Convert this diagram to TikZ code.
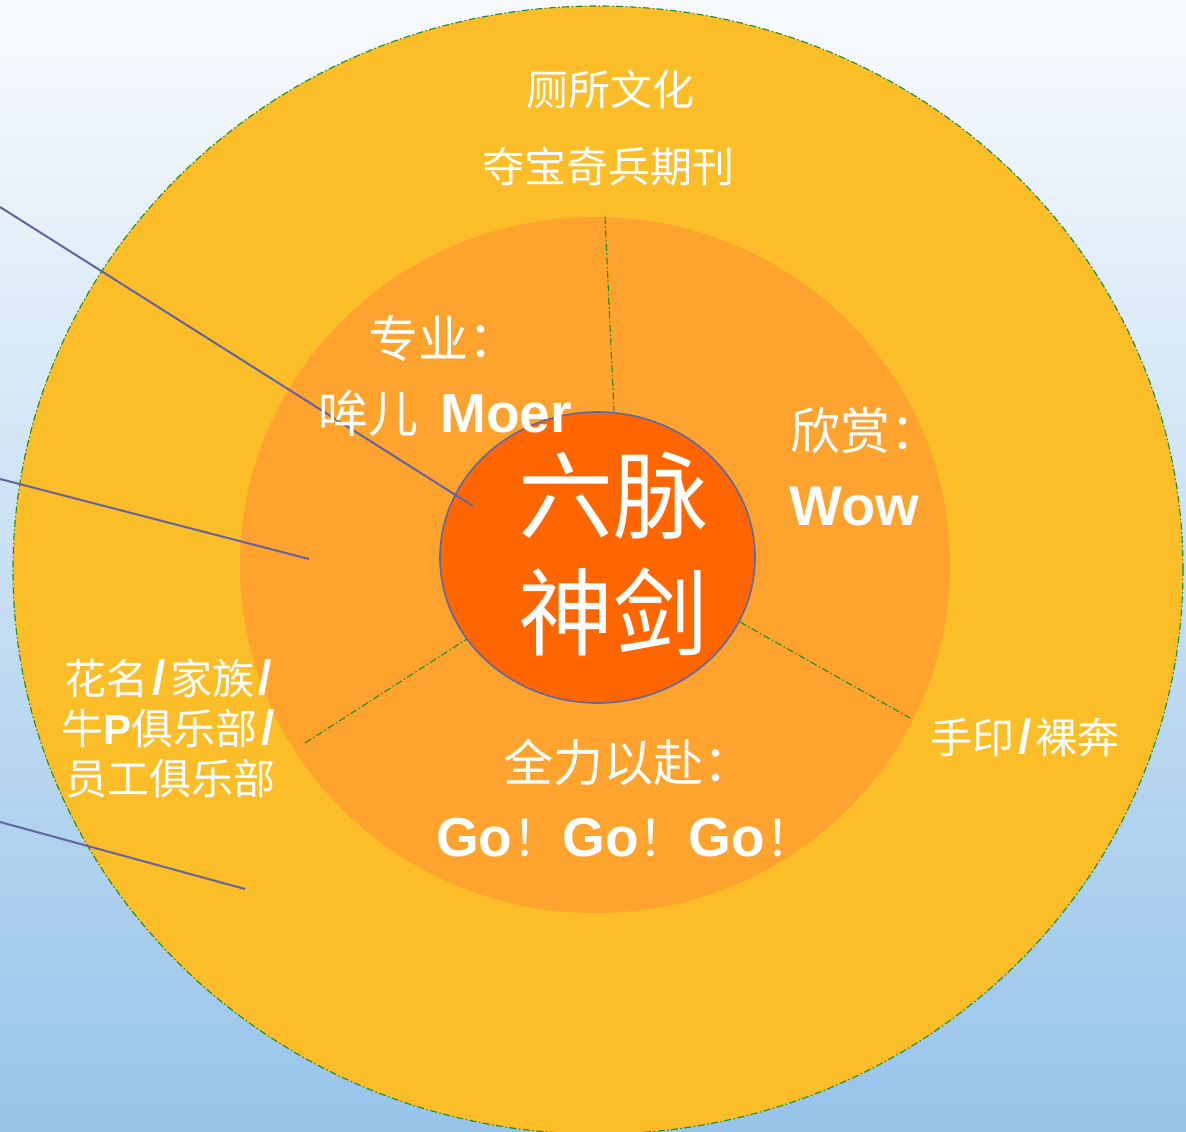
\documentclass[tikz,border=0pt]{standalone}
\usepackage{fontspec}
\setmainfont{Liberation Sans}
\newfontfamily\cjk{Noto Sans CJK SC}
\usetikzlibrary{shapes.geometric}
\definecolor{bgtop}{HTML}{F8FBFE}
\definecolor{bgbot}{HTML}{97C4EA}
\definecolor{outerc}{HTML}{FBBE29}
\definecolor{middlec}{HTML}{FDA32E}
\definecolor{innerc}{HTML}{FF6600}
\definecolor{rimc}{HTML}{5B68AC}
\definecolor{leadc}{HTML}{6463A2}
\definecolor{sepc}{HTML}{1F8A1F}
\newcommand{\slsh}{{\rmfamily\bfseries\fontsize{48}{50}\selectfont\kern4pt/\kern4pt}}
\newcommand{\lat}[1]{{\rmfamily\bfseries\fontsize{55}{60}\selectfont #1}}
\tikzset{
  ring/.style={ellipse, inner sep=0pt, outer sep=0pt},
  sepline/.style={draw=sepc, line width=1.1pt, dash pattern=on 7pt off 2.5pt on 1.5pt off 2.5pt},
  leadline/.style={draw=leadc, line width=2pt},
  lbl/.style={text=white, inner sep=0pt, align=center},
  big/.style={lbl, font=\cjk\fontsize{95}{115}\selectfont},
  mid/.style={lbl, font=\cjk\fontsize{50}{60}\selectfont},
  sml/.style={lbl, font=\cjk\fontsize{42}{50}\selectfont}
}
\begin{document}
\begin{tikzpicture}[x=1pt,y=-1pt]
\useasboundingbox (0,0) rectangle (1186,1132);
\clip (0,0) rectangle (1186,1132);
\shade[top color=bgtop, bottom color=bgbot] (0,0) rectangle (1186,1132);

\node[ring, fill=outerc, sepline, minimum width=1170pt, minimum height=1128pt] (outer) at (598,570) {};
\node[ring, fill=middlec, minimum width=710pt, minimum height=696pt] (middle) at (595,565) {};

% separators
\coordinate (s1a) at (605,217);
\coordinate (s1b) at (614,411);
\coordinate (s2a) at (740,622);
\coordinate (s2b) at (910,718);
\coordinate (s3a) at (470,637);
\coordinate (s3b) at (305,743);
\draw[sepline] (s1a) -- (s1b);
\draw[sepline] (s2a) -- (s2b);
\draw[sepline] (s3a) -- (s3b);

\node[ring, fill=innerc, draw=rimc, line width=1.6pt, minimum width=315pt, minimum height=291pt] (inner) at (597.5,557.5) {};

% leader lines
\coordinate (l1a) at (0,207);
\coordinate (l1b) at (473,506);
\coordinate (l2a) at (0,479);
\coordinate (l2b) at (309,559);
\coordinate (l3a) at (0,822);
\coordinate (l3b) at (245,889);
\draw[leadline] (l1a) -- (l1b);
\draw[leadline] (l2a) -- (l2b);
\draw[leadline] (l3a) -- (l3b);

% labels
\node[sml] (t1) at (610,89) {厕所文化};
\node[sml] (t2) at (608,166) {夺宝奇兵期刊};
\node[mid, anchor=west] (t3) at (368,338) {专业：};
\node[mid, anchor=west] (t4) at (318,413) {哞儿\kern22pt\lat{Moer}};
\node[mid, anchor=west] (t5) at (790,430) {欣赏：};
\node[lbl, anchor=west, font=\bfseries\fontsize{56}{60}\selectfont] (t6) at (789,507) {Wow};
\node[big] (t7) at (613,496) {六脉};
\node[big] (t8) at (613,612) {神剑};
\node[mid] (t9) at (628,762) {全力以赴：};
\node[mid, anchor=west] (t10) at (436,838) {\lat{Go}！\lat{Go}！\lat{Go}！};
\node[sml] (t11) at (170,728) {花名\slsh 家族\slsh\\牛{\rmfamily\bfseries P}俱乐部\slsh\\员工俱乐部};
\node[sml, anchor=west] (t12) at (930,738) {手印\slsh 裸奔};
\end{tikzpicture}
\end{document}
